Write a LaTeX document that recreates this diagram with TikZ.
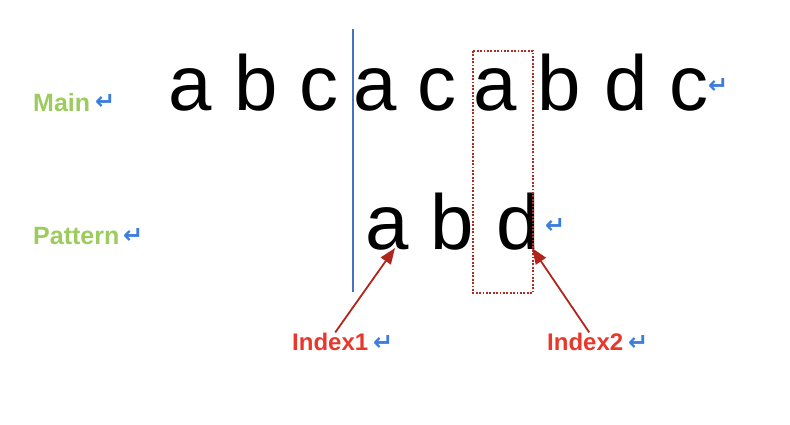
\documentclass[tikz,border=0pt]{standalone}
\usepackage{fontspec}
\setmainfont{Liberation Sans}
\newfontfamily\symfont{DejaVu Sans}
\usetikzlibrary{arrows.meta}
\definecolor{lblgreen}{HTML}{9CCB5E}
\definecolor{retblue}{HTML}{3B7DDD}
\definecolor{linblue}{HTML}{4472C4}
\definecolor{idxred}{HTML}{E8382B}
\definecolor{arrred}{HTML}{B0261C}
\definecolor{boxred}{HTML}{B22A1F}
\begin{document}
\begin{tikzpicture}[x=1pt,y=-1pt,
  bigletter/.style={anchor=base, inner sep=0pt, font=\fontsize{78}{78}\selectfont},
  retmark/.style={anchor=base west, inner sep=0pt, text=retblue, font=\symfont\bfseries\fontsize{24}{24}\selectfont},
  rowlabel/.style={anchor=base west, inner sep=0pt, text=lblgreen, font=\bfseries\fontsize{25}{25}\selectfont},
  idxlabel/.style={anchor=base west, inner sep=0pt, text=idxred, font=\bfseries\fontsize{24}{24}\selectfont},
  ptr/.style={draw=arrred, line width=1.8pt, -{Triangle[length=16pt,width=12pt]}},
  shiftline/.style={draw=linblue, line width=1.5pt},
  matchbox/.style={draw=boxred, line width=1.8pt, dash pattern=on 1.8pt off 1.6pt}
]
\useasboundingbox[fill=white] (0,0) rectangle (790,424);

% labels
\node[rowlabel] (mainlbl) at (33,111) {Main};
\node[retmark] (mainret) at (95,109) {↵};
\node[rowlabel] (patlbl) at (33,244) {Pattern};
\node[retmark] (patret) at (123,243) {↵};

% main string
\node[bigletter] (m1) at (190,110) {a};
\node[bigletter] (m2) at (256,110) {b};
\node[bigletter] (m3) at (319,110) {c};
\node[bigletter] (m4) at (375,110) {a};
\node[bigletter] (m5) at (437,110) {c};
\node[bigletter] (m6) at (495,110) {a};
\node[bigletter] (m7) at (559,110) {b};
\node[bigletter] (m8) at (626,110) {d};
\node[bigletter] (m9) at (689,110) {c};
\node[retmark] (m9ret) at (708,93) {↵};

% pattern
\node[bigletter] (p1) at (387,249) {a};
\node[bigletter] (p2) at (452,249) {b};
\node[bigletter] (p3) at (518,249) {d};
\node[retmark] (p3ret) at (545,233) {↵};

% shift line and match box
\coordinate (ltop) at (353,29);
\coordinate (lbot) at (353,292);
\draw[shiftline] (ltop) -- (lbot);
\coordinate (boxa) at (473,51);
\coordinate (boxb) at (533,293);
\draw[matchbox] (boxa) rectangle (boxb);

% index labels
\node[idxlabel] (i1) at (292,350) {Index1};
\node[retmark] (i1ret) at (373,350) {↵};
\node[idxlabel] (i2) at (547,350) {Index2};
\node[retmark] (i2ret) at (628,350) {↵};

\coordinate (t1) at (395,248);
\coordinate (t2) at (532,248);
\draw[ptr] ([xshift=5pt]i1.north) -- (t1);
\draw[ptr] ([xshift=4pt]i2.north) -- (t2);
\end{tikzpicture}
\end{document}
